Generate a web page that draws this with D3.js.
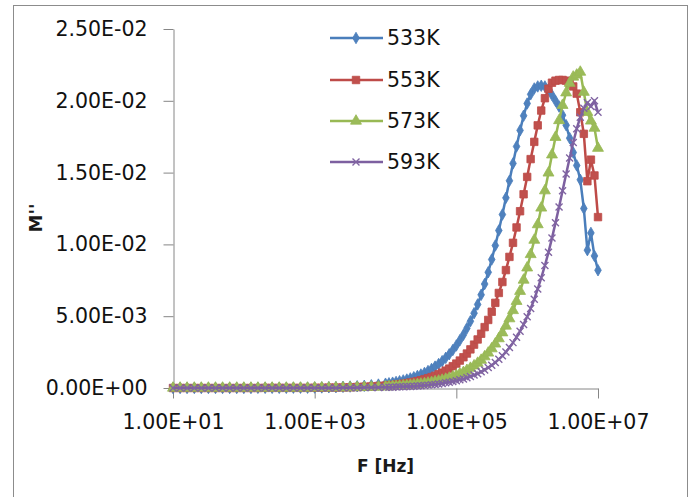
<!DOCTYPE html>
<html>
<head>
<meta charset="utf-8">
<script src="https://cdn.jsdelivr.net/npm/d3@7"></script>
<style>
  body { margin: 0; background: #fff; }
  svg { display: block; font-family: "DejaVu Sans", Verdana, sans-serif; }
</style>
</head>
<body>
<script>
// frequencies (Hz): 10 pts/decade below 1e4, 20 pts/decade above
var freq = [
  10, 12.6, 15.8, 20, 25.1, 31.6, 39.8, 50.1, 63.1, 79.4,
  100, 126, 158, 200, 251, 316, 398, 501, 631, 794,
  1000, 1259, 1585, 1995, 2512, 3162, 3981, 5012, 6310, 7943,
  1.00e4, 1.12e4, 1.26e4, 1.41e4, 1.58e4, 1.78e4, 2.00e4, 2.24e4, 2.51e4, 2.82e4,
  3.16e4, 3.55e4, 3.98e4, 4.47e4, 5.01e4, 5.62e4, 6.31e4, 7.08e4, 7.94e4, 8.91e4,
  1.00e5, 1.12e5, 1.26e5, 1.41e5, 1.58e5, 1.78e5, 2.00e5, 2.24e5, 2.51e5, 2.82e5,
  3.16e5, 3.55e5, 3.98e5, 4.47e5, 5.01e5, 5.62e5, 6.31e5, 7.08e5, 7.94e5, 8.91e5,
  1.00e6, 1.12e6, 1.26e6, 1.41e6, 1.58e6, 1.78e6, 2.00e6, 2.24e6, 2.51e6, 2.82e6,
  3.16e6, 3.55e6, 3.98e6, 4.47e6, 5.01e6, 5.62e6, 6.31e6, 7.08e6, 7.94e6, 8.91e6,
  1.00e7
];

// M'' values, in units of 1e-3
var m533 = [
  0, 0, 0, 0, 0, 0, 0, 0, 0, 0,
  0, 0, 0.01, 0.01, 0.01, 0.01, 0.01, 0.02, 0.02, 0.02,
  0.03, 0.04, 0.05, 0.06, 0.08, 0.10, 0.12, 0.15, 0.19, 0.24,
  0.30, 0.33, 0.37, 0.42, 0.47, 0.53, 0.59, 0.67, 0.75, 0.84,
  0.94, 1.05, 1.18, 1.33, 1.49, 1.67, 1.87, 2.10, 2.35, 2.64,
  2.96, 3.32, 3.71, 4.16, 4.65, 5.21, 5.82, 6.49, 7.24, 8.06,
  8.95, 9.92, 10.97, 12.08, 13.24, 14.43, 15.64, 16.82, 17.94, 18.96,
  19.81, 20.45, 20.86, 21.00, 21.05, 21.00, 20.80, 20.40, 20.00, 19.60,
  19.00, 18.30, 17.40, 16.40, 15.50, 14.50, 12.50, 9.60, 10.80, 9.20,
  8.20
];
var m553 = [
  0, 0, 0, 0, 0, 0, 0, 0, 0, 0,
  0, 0, 0, 0.01, 0.01, 0.01, 0.01, 0.01, 0.01, 0.01,
  0.02, 0.02, 0.03, 0.03, 0.04, 0.05, 0.07, 0.09, 0.11, 0.14,
  0.17, 0.19, 0.21, 0.24, 0.27, 0.30, 0.34, 0.38, 0.43, 0.48,
  0.54, 0.61, 0.68, 0.76, 0.85, 0.96, 1.07, 1.21, 1.35, 1.52,
  1.70, 1.91, 2.14, 2.40, 2.69, 3.02, 3.38, 3.78, 4.24, 4.74,
  5.31, 5.93, 6.62, 7.38, 8.21, 9.13, 10.11, 11.18, 12.31, 13.49,
  14.70, 15.94, 17.14, 18.29, 19.32, 20.18, 20.84, 21.26, 21.40, 21.45,
  21.45, 21.40, 21.20, 21.00, 20.50, 19.20, 17.70, 14.40, 15.90, 14.80,
  11.90
];
var m573 = [
  0, 0, 0, 0, 0, 0, 0, 0, 0, 0,
  0, 0, 0, 0, 0, 0, 0, 0, 0, 0,
  0.01, 0.01, 0.01, 0.02, 0.02, 0.03, 0.04, 0.04, 0.06, 0.07,
  0.09, 0.10, 0.11, 0.12, 0.14, 0.16, 0.17, 0.20, 0.22, 0.25,
  0.28, 0.31, 0.35, 0.39, 0.44, 0.49, 0.55, 0.62, 0.69, 0.78,
  0.87, 0.98, 1.09, 1.23, 1.38, 1.55, 1.73, 1.94, 2.18, 2.44,
  2.74, 3.07, 3.44, 3.85, 4.32, 4.83, 5.40, 6.04, 6.74, 7.52,
  8.37, 9.30, 10.30, 11.38, 12.54, 13.74, 14.98, 16.24, 17.46, 18.63,
  19.69, 20.56, 21.23, 21.66, 21.80, 22.00, 20.60, 19.20, 18.60, 18.10,
  16.70
];
var m593 = [
  0, 0, 0, 0, 0, 0, 0, 0, 0, 0,
  0, 0, 0, 0, 0, 0, 0, 0, 0, 0,
  0, 0, 0, 0, 0.01, 0.02, 0.02, 0.03, 0.03, 0.04,
  0.05, 0.06, 0.06, 0.07, 0.08, 0.09, 0.10, 0.11, 0.13, 0.14,
  0.16, 0.18, 0.20, 0.23, 0.25, 0.28, 0.32, 0.36, 0.40, 0.45,
  0.50, 0.57, 0.63, 0.71, 0.80, 0.90, 1.00, 1.13, 1.26, 1.42,
  1.59, 1.78, 2.00, 2.24, 2.51, 2.82, 3.16, 3.54, 3.96, 4.43,
  4.96, 5.54, 6.18, 6.90, 7.67, 8.53, 9.45, 10.44, 11.50, 12.61,
  13.74, 14.90, 16.02, 17.09, 18.06, 18.86, 19.48, 19.87, 19.60, 20.00,
  19.20
];

var seriesNames = ["533K", "553K", "573K", "593K"];
var xTicks = [1e1, 1e3, 1e5, 1e7];
var xTickLabels = ["1.00E+01", "1.00E+03", "1.00E+05", "1.00E+07"];
var yTicks = [0, 5, 10, 15, 20, 25];
var yTickLabels = ["0.00E+00", "5.00E-03", "1.00E-02", "1.50E-02", "2.00E-02", "2.50E-02"];

var series = [
  { name: seriesNames[0], values: m533, line: "#4A7EBB", fill: "#4F81BD", shape: "diamond" },
  { name: seriesNames[1], values: m553, line: "#BE4B48", fill: "#C0504D", shape: "square" },
  { name: seriesNames[2], values: m573, line: "#98B954", fill: "#9BBB59", shape: "triangle" },
  { name: seriesNames[3], values: m593, line: "#7D60A0", fill: "#8064A2", shape: "x" }
];

var W = 694, H = 497;
var svg = d3.select("body").append("svg")
  .attr("width", W)
  .attr("height", H);

svg.append("rect")
  .attr("width", W).attr("height", H)
  .attr("fill", "#fff");

// chart border
svg.append("rect")
  .attr("x", 13.5).attr("y", 5.5)
  .attr("width", 674).attr("height", 520)
  .attr("fill", "none")
  .attr("stroke", "#8c8c8c");

var x = d3.scaleLog().domain([10, 1e7]).range([173, 598]);
var y = d3.scaleLinear().domain([0, 25]).range([388, 29]);

// axes
var yAxis = svg.append("g")
  .attr("transform", "translate(173.5,0)")
  .call(d3.axisLeft(y)
    .tickValues(yTicks)
    .tickFormat(function (d, i) { return yTickLabels[i]; })
    .tickSize(10).tickSizeOuter(0).tickPadding(16));

var xAxis = svg.append("g")
  .attr("transform", "translate(0,388.5)")
  .call(d3.axisBottom(x)
    .tickValues(xTicks)
    .tickFormat(function (d, i) { return xTickLabels[i]; })
    .tickSize(10).tickSizeOuter(0).tickPadding(16));

[xAxis, yAxis].forEach(function (g) {
  g.selectAll("path, line").attr("stroke", "#868686");
  g.selectAll("text")
    .attr("fill", "#111")
    .style("font-family", "'DejaVu Sans', Verdana, sans-serif")
    .style("font-size", "20.5px");
});

// axis titles
svg.append("text")
  .attr("x", 385.5).attr("y", 472)
  .attr("text-anchor", "middle")
  .style("font-size", "17px")
  .style("font-weight", "bold")
  .attr("fill", "#1a1a1a")
  .text("F [Hz]");

svg.append("text")
  .attr("transform", "translate(42,218) rotate(-90)")
  .attr("text-anchor", "middle")
  .style("font-size", "18px")
  .style("font-weight", "bold")
  .attr("fill", "#1a1a1a")
  .text("M''");

function marker(g, s, cx, cy) {
  if (s.shape === "diamond") {
    g.append("path")
      .attr("d", d3.symbol(d3.symbolDiamond, 38)())
      .attr("transform", "translate(" + cx + "," + cy + ")")
      .attr("fill", s.fill).attr("stroke", s.line).attr("stroke-width", 0.8);
  } else if (s.shape === "square") {
    g.append("path")
      .attr("d", d3.symbol(d3.symbolSquare, 56)())
      .attr("transform", "translate(" + cx + "," + cy + ")")
      .attr("fill", s.fill).attr("stroke", s.line).attr("stroke-width", 0.8);
  } else if (s.shape === "triangle") {
    g.append("path")
      .attr("d", d3.symbol(d3.symbolTriangle, 52)())
      .attr("transform", "translate(" + cx + "," + cy + ")")
      .attr("fill", s.fill).attr("stroke", s.line).attr("stroke-width", 0.8);
  } else {
    g.append("path")
      .attr("d", "M-3.5,-3.5L3.5,3.5M-3.5,3.5L3.5,-3.5")
      .attr("transform", "translate(" + cx + "," + cy + ")")
      .attr("fill", "none").attr("stroke", s.fill).attr("stroke-width", 1.4);
  }
}

var line = d3.line()
  .x(function (d) { return x(d[0]); })
  .y(function (d) { return y(d[1]); });

series.forEach(function (s) {
  var pts = freq.map(function (f, i) { return [f, s.values[i]]; });
  var g = svg.append("g");
  g.append("path")
    .datum(pts)
    .attr("d", line)
    .attr("fill", "none")
    .attr("stroke", s.line)
    .attr("stroke-width", 2.5)
    .attr("stroke-linejoin", "round");
  pts.forEach(function (p) {
    marker(g, s, x(p[0]), y(p[1]));
  });
});

// legend
var legendY = [38, 80, 121, 162];
series.forEach(function (s, i) {
  var g = svg.append("g");
  g.append("line")
    .attr("x1", 330).attr("x2", 383)
    .attr("y1", legendY[i]).attr("y2", legendY[i])
    .attr("stroke", s.line).attr("stroke-width", 2.5);
  marker(g, s, 356, legendY[i]);
  g.append("text")
    .attr("x", 387).attr("y", legendY[i])
    .attr("dy", "0.36em")
    .style("font-size", "20.5px")
    .attr("fill", "#111")
    .text(s.name);
});
</script>
</body>
</html>
